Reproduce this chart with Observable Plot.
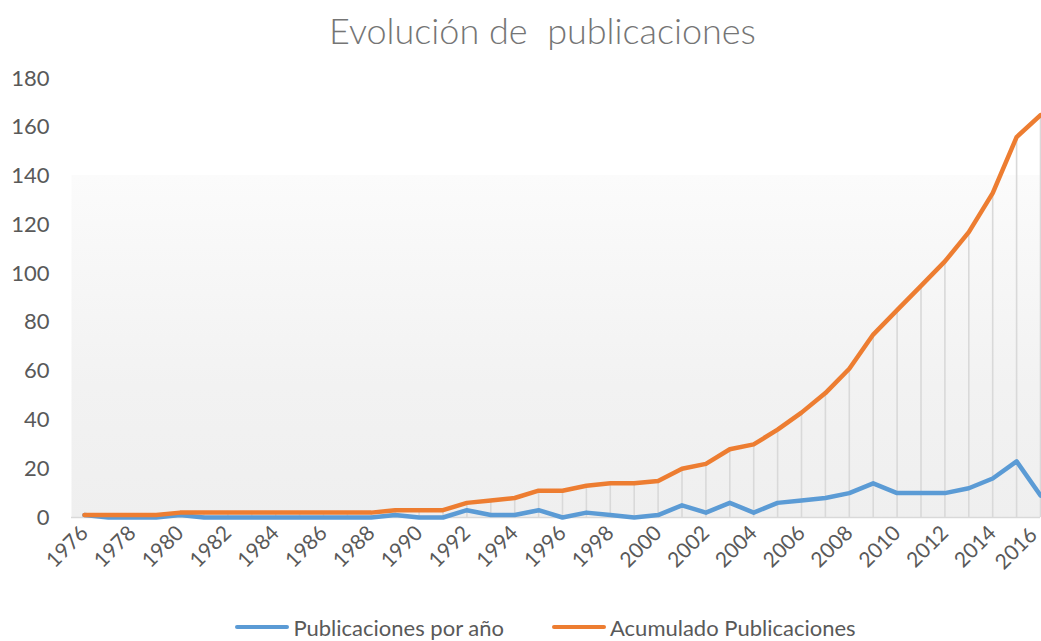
<!DOCTYPE html>
<html>
<head>
<meta charset="utf-8">
<script src="https://cdn.jsdelivr.net/npm/d3@7"></script>
<script src="https://cdn.jsdelivr.net/npm/@observablehq/plot@0.6"></script>
<style>
  body { margin: 0; background: #fff; font-family: Lato, "Open Sans", sans-serif; overflow: hidden; position: relative; width: 1041px; height: 641px; }
  #title { height: 60px; line-height: 60px; text-align: center; font-size: 36px; font-weight: 300; color: #757575; white-space: pre; padding-left: 44px; }
  #chart svg { display: block; }
  #legend { position: absolute; left: 0; top: 611px; width: 1041px; height: 32px; display: flex; justify-content: center; align-items: center; gap: 48px; font-size: 22px; color: #595959; padding-left: 50px; box-sizing: border-box; }
  .item { display: flex; align-items: center; }
  .sw { width: 54px; height: 4px; border-radius: 2px; margin-right: 4px; }
</style>
</head>
<body>
<div id="title">Evolución de  publicaciones</div>
<div id="chart"></div>
<div id="legend"></div>
<script>
const years = d3.range(1976, 2017);
const porAnio = [1,0,0,0,1,0,0,0,0,0,0,0,0,1,0,0,3,1,1,3,0,2,1,0,1,5,2,6,2,6,7,8,10,14,10,10,10,12,16,23,9];
const acumulado = [1,1,1,1,2,2,2,2,2,2,2,2,2,3,3,3,6,7,8,11,11,13,14,14,15,20,22,28,30,36,43,51,61,75,85,95,105,117,133,156,165];
const seriesNames = ["Publicaciones por año", "Acumulado Publicaciones"];
const seriesColors = ["#5b9bd5", "#ed7d31"];
const yTicks = [0,20,40,60,80,100,120,140,160,180];
const xTicks = d3.range(1976, 2017, 2);

const data = years.map((y, i) => ({year: y, pub: porAnio[i], cum: acumulado[i]}));
const xTicksMain = xTicks.slice(0, -1);
const xTickLast = xTicks.slice(-1);

const chart = Plot.plot({
  width: 1041,
  height: 545,
  marginLeft: 84,
  marginRight: 1,
  marginTop: 18,
  marginBottom: 88,
  style: {fontFamily: "Lato, 'Open Sans', sans-serif", color: "#595959", background: "transparent", overflow: "visible"},
  x: {domain: [1976, 2016], label: null},
  y: {domain: [0, 180], label: null},
  marks: [
    Plot.frame({fill: "url(#bgGrad)", stroke: "none", insetLeft: -13}),
    Plot.ruleX(data, {x: "year", y1: 0, y2: "cum", stroke: "#d9d9d9", strokeWidth: 1.6}),
    Plot.ruleY([0], {stroke: "#d9d9d9", strokeWidth: 1.6, insetLeft: -13}),
    Plot.line(data, {x: "year", y: "pub", stroke: seriesColors[0], strokeWidth: 4.5, strokeLinejoin: "round"}),
    Plot.line(data, {x: "year", y: "cum", stroke: seriesColors[1], strokeWidth: 4.5, strokeLinejoin: "round"}),
    Plot.axisX({ticks: xTicksMain, tickFormat: d => String(d), tickRotate: -45, tickSize: 0, tickPadding: 12, dx: 0, fontSize: 21, label: null}),
    Plot.axisX({ticks: xTickLast, tickFormat: d => String(d), tickRotate: -45, tickSize: 0, tickPadding: 14, dx: -7, fontSize: 21, label: null}),
    Plot.axisY({ticks: yTicks, tickSize: 0, tickPadding: 35, fontSize: 22, label: null})
  ]
});

const ns = "http://www.w3.org/2000/svg";
const defs = document.createElementNS(ns, "defs");
defs.innerHTML = `<linearGradient id="bgGrad" x1="0" y1="0" x2="0" y2="1">
  <stop offset="0" stop-color="#ffffff"/>
  <stop offset="0.22" stop-color="#ffffff"/>
  <stop offset="0.221" stop-color="#fbfbfb"/>
  <stop offset="0.7" stop-color="#f2f2f2"/>
  <stop offset="1" stop-color="#efefef"/>
</linearGradient>`;
chart.insertBefore(defs, chart.firstChild);
document.getElementById("chart").appendChild(chart);

const legend = document.getElementById("legend");
seriesNames.forEach((n, i) => {
  const it = document.createElement("div");
  it.className = "item";
  it.innerHTML = `<span class="sw" style="background:${seriesColors[i]}"></span><span>${n}</span>`;
  legend.appendChild(it);
});
</script>
</body>
</html>
